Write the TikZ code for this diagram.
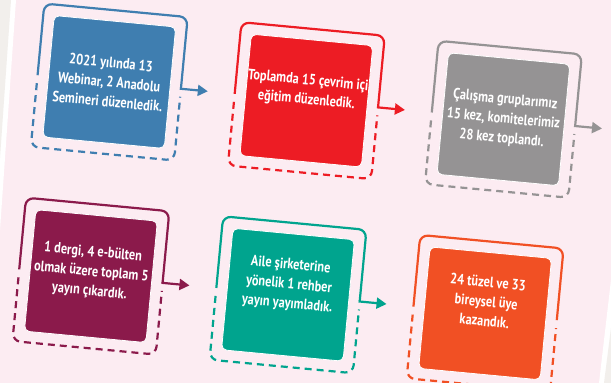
\documentclass[tikz,border=0pt]{standalone}
\usepackage{fontspec}
\usetikzlibrary{arrows.meta}
\newfontfamily\cardfont{PT Sans Bold}[FakeStretch=0.82]

\definecolor{bgpink}{HTML}{FCECF2}
\definecolor{paper}{HTML}{F2EFEC}
\definecolor{cblue}{HTML}{3F7EB0}
\definecolor{cred}{HTML}{ED1C24}
\definecolor{cgrey}{HTML}{959394}
\definecolor{cplum}{HTML}{8B1A4B}
\definecolor{cteal}{HTML}{00A48E}
\definecolor{corange}{HTML}{F15024}

\begin{document}
\begin{tikzpicture}[x=1pt, y=1pt,
    card/.style={draw=white, line width=0.8pt, rounded corners=5pt,
        minimum size=122pt, inner sep=0pt},
    words/.style={text=white, align=center,
        font={\cardfont\fontsize{15}{19.5}\selectfont}},
    frame/.style={line width=2.2pt, rounded corners=8pt},
    gaps/.style={frame, dash pattern=on 7pt off 5pt},
    link/.style={line width=2.2pt, shorten <=-1.1pt,
        -{Triangle[length=10pt, width=11pt]}}]

    \useasboundingbox (0,0) rectangle (611,383);
    \clip (0,0) rectangle (611,383);

    % page and paper edges
    \fill[bgpink] (0,0) rectangle (611,383);
    \fill[white] (0,383) -- (16,383) -- (0,153) -- cycle;
    \fill[paper] (0,383) -- (11,383) -- (0,225) -- cycle;
    \fill[white] (599,0) -- (611,0) -- (611,103) -- cycle;
    \fill[paper] (604,0) -- (611,0) -- (611,55) -- cycle;

    \begin{scope}[shift={(109.25,301)}, rotate=-5.4, transform shape]

    \foreach \n/\x/\y/\c/\l/\t in {
        web/0/0/cblue/0/{2021 yılında 13\\Webinar, 2 Anadolu\\Semineri düzenledik.},
        edu/198/0/cred/10/{Toplamda 15 çevrim içi\\eğitim düzenledik.},
        meet/396/0/cgrey/0/{Çalışma gruplarımız\\15 kez, komitelerimiz\\28 kez toplandı.},
        pub/0/-195/cplum/4/{1 dergi, 4 e-bülten\\olmak üzere toplam 5\\yayın çıkardık.},
        guide/198/-195/cteal/10/{Aile şirketerine\\yönelik 1 rehber\\yayın yayımladık.},
        member/396/-195/corange/12/{24 tüzel ve 33\\bireysel üye\\kazandık.}} {
        \node[card, fill=\c] (\n) at (\x,\y) {};
        \node[words] (\n-text) at (\x,\y+\l) {\t};
        \draw[frame, draw=\c] (\x-72,\y) -- (\x-72,\y+72) -- (\x+72,\y+72) -- (\x+72,\y);
        \draw[gaps, draw=\c] (\x-72,\y-8) -- (\x-72,\y-72) -- (\x+72,\y-72) -- (\x+72,\y-8);
        \coordinate (\n-out) at (\x+72,\y);
        \coordinate (\n-tip) at (\x+99,\y);
    }

    \draw[link, cblue] (web-out) -- (web-tip);
    \draw[link, cred] (edu-out) -- (edu-tip);
    \draw[link, cgrey] (meet-out) -- (meet-tip);
    \draw[link, cplum] (pub-out) -- (pub-tip);
    \draw[link, cteal] (guide-out) -- (guide-tip);

    \end{scope}
\end{tikzpicture}
\end{document}
